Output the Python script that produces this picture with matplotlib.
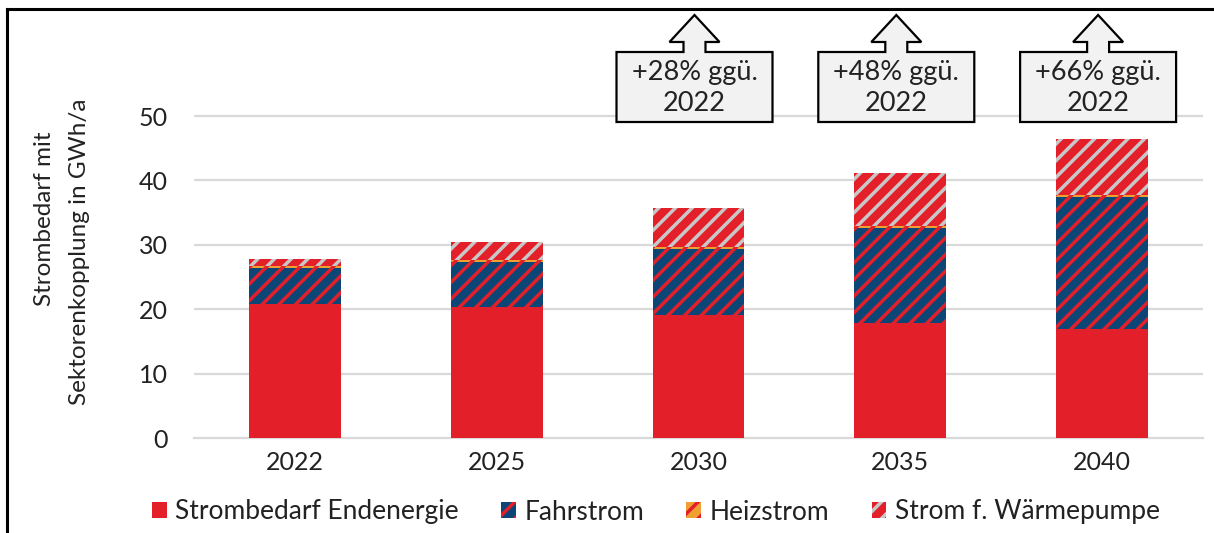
import matplotlib
matplotlib.use("Agg")
import matplotlib.pyplot as plt
from matplotlib.patches import Polygon, Patch
from matplotlib.lines import Line2D
import numpy as np

# ---- data ----
years = ["2022", "2025", "2030", "2035", "2040"]
endenergie = [20.8, 20.3, 19.1, 17.9, 16.9]
fahrstrom = [5.6, 7.0, 10.2, 14.7, 20.5]
heizstrom = [0.3, 0.3, 0.3, 0.3, 0.3]
waermepumpe = [1.1, 2.8, 6.1, 8.3, 8.7]
callout_labels = ["+28% ggü.\n2022", "+48% ggü.\n2022", "+66% ggü.\n2022"]
callout_idx = [2, 3, 4]
series_names = ["Strombedarf Endenergie", "Fahrstrom", "Heizstrom", "Strom f. Wärmepumpe"]
yticks = [0, 10, 20, 30, 40, 50]

RED = "#e3202a"
BLUE = "#0b4677"
ORANGE = "#f0a030"
GREY = "#c8c8c8"

plt.rcParams['font.family'] = ['Lato', 'DejaVu Sans']
plt.rcParams['hatch.linewidth'] = 2.5

W, H = 1214, 533
fig = plt.figure(figsize=(W / 100, H / 100), dpi=100)

def fx(px):
    return px / W

def fy(py):
    return 1 - py / H

ymax = 52
ax_left, ax_right, ax_bottom = 194, 1203, 438
ppu = 6.44
ax_top = ax_bottom - ymax * ppu
ax = fig.add_axes([fx(ax_left), fy(ax_bottom), (ax_right - ax_left) / W, (ax_bottom - ax_top) / H])

x = np.arange(len(years))
bw = 0.455
b1 = np.array(endenergie)
b2 = b1 + np.array(fahrstrom)
b3 = b2 + np.array(heizstrom)

ax.bar(x, endenergie, bw, color=RED, linewidth=0, zorder=3)
ax.bar(x, fahrstrom, bw, bottom=b1, facecolor=BLUE, edgecolor=RED, hatch='//', linewidth=0, zorder=3)
ax.bar(x, heizstrom, bw, bottom=b2, facecolor=ORANGE, edgecolor=RED, hatch='//', linewidth=0, zorder=3)
ax.bar(x, waermepumpe, bw, bottom=b3, facecolor=RED, edgecolor=GREY, hatch='//', linewidth=0, zorder=3)

ax.set_xlim(-0.5, len(years) - 0.5)
ax.set_ylim(0, ymax)
ax.set_yticks(yticks)
ax.set_xticks(x)
ax.set_xticklabels(years)
ax.tick_params(axis='both', length=0, labelsize=18, colors='#222222')
ax.tick_params(axis='y', pad=19)
ax.tick_params(axis='x', pad=9)
for s in ['top', 'right', 'left']:
    ax.spines[s].set_visible(False)
ax.spines['bottom'].set_color('#d9d9d9')
ax.spines['bottom'].set_linewidth(1.6)
ax.spines['bottom'].set_zorder(1)
for t in yticks[1:]:
    ax.axhline(t, color='#d9d9d9', linewidth=1.6, zorder=1)

# y label (two lines)
fig.text(fx(45), fy(219), "Strombedarf mit", rotation=90, ha='center', va='center', fontsize=17.5, color='#222222')
fig.text(fx(80), fy(252), "Sektorenkopplung in GWh/a", rotation=90, ha='center', va='center', fontsize=17.5, color='#222222')

# callouts
for idx, lab in zip(callout_idx, callout_labels):
    cx = ax.transData.transform((idx, 0))[0] - 4  # pixels from left
    hw_box, hw_head, hw_shaft = 78, 25, 11
    y_tip, y_head, y_box, y_bot = 15, 42, 52, 122
    pts = [
        (cx, y_tip), (cx + hw_head, y_head), (cx + hw_shaft, y_head), (cx + hw_shaft, y_box),
        (cx + hw_box, y_box), (cx + hw_box, y_bot), (cx - hw_box, y_bot), (cx - hw_box, y_box),
        (cx - hw_shaft, y_box), (cx - hw_shaft, y_head), (cx - hw_head, y_head),
    ]
    poly = Polygon([(fx(px), fy(py)) for px, py in pts], closed=True, transform=fig.transFigure,
                   facecolor='#f2f2f2', edgecolor='black', linewidth=1.6, zorder=10)
    fig.add_artist(poly)
    fig.text(fx(cx), fy(88), lab, ha='center', va='center', fontsize=19.5, color='#222222',
             linespacing=1.3, zorder=11)

# legend
handles = [
    Patch(facecolor=RED, linewidth=0),
    Patch(facecolor=BLUE, edgecolor=RED, hatch='//', linewidth=0),
    Patch(facecolor=ORANGE, edgecolor=RED, hatch='//', linewidth=0),
    Patch(facecolor=RED, edgecolor=GREY, hatch='//', linewidth=0),
]
leg = fig.legend(handles, series_names, loc='center', bbox_to_anchor=(fx(656), fy(512)), ncol=4,
                 frameon=False, fontsize=19, handlelength=0.55, handleheight=0.55,
                 handletextpad=0.33, columnspacing=1.6, borderaxespad=0)
for t in leg.get_texts():
    t.set_color('#222222')

# figure border (left and top)
fig.add_artist(Line2D([fx(7), fx(7)], [fy(9), fy(533)], transform=fig.transFigure, color='black', linewidth=2.2))
fig.add_artist(Line2D([fx(7), fx(1214)], [fy(9), fy(9)], transform=fig.transFigure, color='black', linewidth=2.2))

fig.savefig("out.png", dpi=100)
